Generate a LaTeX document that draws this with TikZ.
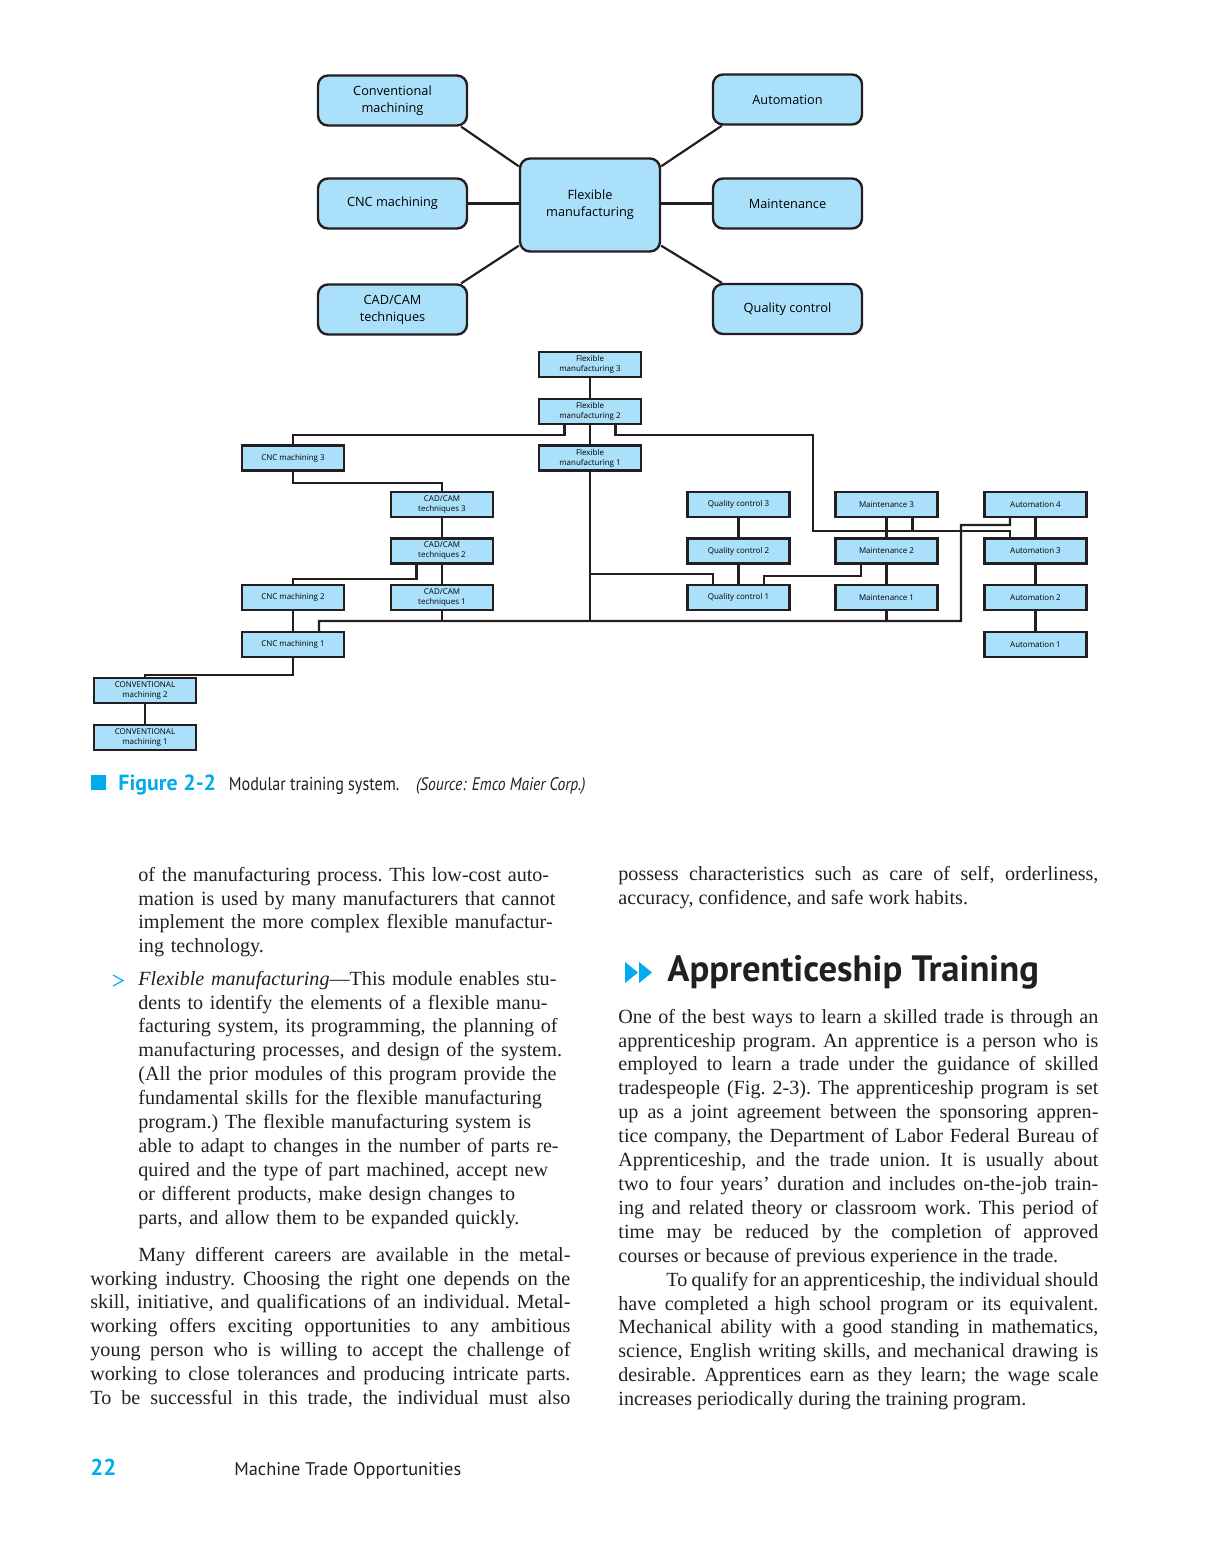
\documentclass[tikz,border=0pt]{standalone}
\usepackage{fontspec}
\setmainfont{Liberation Serif}
\setsansfont{PT Sans}
\newfontfamily\labelfont{Open Sans}
\newfontfamily\capfont[FakeStretch=0.86]{PT Sans}
\usepackage{xcolor}
\definecolor{boxblue}{RGB}{171,224,250}
\definecolor{figcyan}{RGB}{0,172,236}
\definecolor{inkblack}{RGB}{35,31,32}
\usetikzlibrary{positioning}

\begin{document}
\begin{tikzpicture}[
  x=0.5bp, y=-0.5bp,
  topbox/.style={fill=boxblue, draw=inkblack, line width=1.2bp, rounded corners=5bp,
    minimum width=74.5bp, minimum height=25bp, inner sep=1bp, align=center,
    font=\labelfont\fontsize{6.4}{8.5}\selectfont},
  modbox/.style={fill=boxblue, draw=inkblack, line width=1.1bp,
    minimum width=51bp, minimum height=12.5bp, inner sep=0pt, align=center,
    font=\labelfont\fontsize{4}{5}\selectfont},
  link/.style={draw=inkblack, line width=1.1bp},
  bodytext/.style={anchor=north west, inner sep=0pt, text width=240bp, align=justify,
    font=\fontsize{10.1}{12}\selectfont\frenchspacing, text=inkblack,
    execute at begin node={\tolerance=9999\relax\strut}},
  ragtext/.style={bodytext, text width=230bp, align=left}]

  \useasboundingbox (0,0) rectangle (1224,1566);

  % overview of the modules
  \node[topbox] (conv) at (392.5,100.5) {Conventional\\machining};
  \node[topbox] (cncm) at (392.5,203.5) {CNC machining};
  \node[topbox] (cadcam) at (392.5,309.5) {CAD/CAM\\techniques};
  \node[topbox] (autom) at (787.5,99.5) {Automation};
  \node[topbox] (maint) at (787.5,203.5) {Maintenance};
  \node[topbox] (qual) at (787.5,309) {Quality control};
  \node[topbox, minimum width=70bp, minimum height=46.5bp] (flex) at (590,205)
    {Flexible\\manufacturing};

  \draw[link] ([xshift=-3.5bp]conv.south east) -- ([yshift=-4.5bp]flex.north west);
  \draw[link] ([xshift=5bp]autom.south west) -- ([yshift=-4.5bp]flex.north east);
  \draw[link] (cncm) -- (cncm -| flex.west);
  \draw[link] (maint) -- (maint -| flex.east);
  \draw[link] ([xshift=-3.5bp]cadcam.north east) -- ([yshift=3.5bp]flex.south west);
  \draw[link] ([xshift=5bp]qual.north west) -- ([yshift=3.5bp]flex.south east);

  % modular training tree
  \foreach \n/\y in {3/364.5,2/411.5,1/458}
    \node[modbox] (fm\n) at (590,\y) {Flexible\\manufacturing \n};
  \foreach \n/\y in {3/458,2/597.5,1/644.5}
    \node[modbox] (cnc\n) at (293,\y) {CNC machining \n};
  \foreach \n/\y in {3/504.5,2/551,1/597.5} {
    \node[modbox] (cad\n) at (442,\y) {CAD/CAM\\techniques \n};
    \node[modbox] (qc\n) at (738.5,\y) {Quality control \n};
    \node[modbox] (mt\n) at (886.5,\y) {Maintenance \n};
  }
  \foreach \n/\y in {2/690.5,1/737.5}
    \node[modbox] (cv\n) at (145,\y) {CONVENTIONAL\\machining \n};
  \foreach \n/\y in {4/504.5,3/551,2/597.5,1/644.5}
    \node[modbox] (au\n) at (1035.5,\y) {Automation \n};

  \coordinate (bus) at (0,621);
  \coordinate (qcbus) at (0,574);

  \foreach \a/\b in {fm3/fm2, fm2/fm1, cad3/cad2, cad2/cad1, cnc2/cnc1, cv2/cv1,
                     qc3/qc2, qc2/qc1, mt3/mt2, mt2/mt1, au4/au3, au3/au2, au2/au1}
    \draw[link] (\a) -- (\b);

  \draw[link] ([xshift=-12.75bp]fm2.south) -- ++(0,10) -| (cnc3.north);
  \draw[link] ([xshift=12.75bp]fm2.south) -- ++(0,10) -| (813,531)
    -| ([xshift=-12.75bp]au3.north);
  \draw[link] ([xshift=13bp]mt3.south) -- ++(0,14);
  \draw[link] (cnc3.south) -- ++(0,11) -| (cad3.north);
  \draw[link] ([xshift=-12.75bp]cad2.south) -- ++(0,14) -| (cnc2.north);
  \draw[link] (cnc1.south) -- ++(0,17) -| (cv2.north);
  \draw[link] ([xshift=13bp]cnc1.north) |- (961,621) |- (1010,525)
    -- ([xshift=-12.75bp]au4.south);
  \foreach \m in {cad1,fm1,mt1}
    \draw[link] (\m.south) -- (\m.south |- bus);
  \draw[link] (fm1.south |- qcbus) -| ([xshift=-12.75bp]qc1.north);
  \draw[link] ([xshift=-12.75bp]mt2.south) -- ++(0,11) -| ([xshift=12.75bp]qc1.north);

  % caption
  \fill[figcyan] (91,775) rectangle (106,790);
  \node[anchor=base west, inner sep=0pt, text=figcyan,
    font=\sffamily\bfseries\fontsize{11}{13}\selectfont] (figno) at (118,790) {Figure 2-2};
  \node[base right=6bp of figno, inner sep=0pt, text=inkblack,
    font=\capfont\fontsize{9.4}{11}\selectfont] (figtitle) {Modular training system.};
  \node[base right=8bp of figtitle, inner sep=0pt, text=inkblack,
    font=\capfont\itshape\fontsize{9.1}{10}\selectfont] (figsrc) {(Source: Emco Maier Corp.)};

  % left column
  \node[ragtext] (colA) at (138,864) {of the manufacturing process. This low-cost auto-\\
    mation is used by many manufacturers that cannot\\
    implement the more complex flexible manufactur-\\
    ing technology.};
  \draw[figcyan, line width=0.6bp] (113,975) -- (123,980.5) -- (113,986);
  \node[ragtext] (colB) at (138,968) {\textit{Flexible manufacturing}---This module enables stu-\\
    dents to identify the elements of a flexible manu-\\
    facturing system, its programming, the planning of\\
    manufacturing processes, and design of the system.\\
    (All the prior modules of this program provide the\\
    fundamental skills for the flexible manufacturing\\
    program.) The flexible manufacturing system is\\
    able to adapt to changes in the number of parts re-\\
    quired and the type of part machined, accept new\\
    or different products, make design changes to\\
    parts, and allow them to be expanded quickly.};
  \node[bodytext] (colC) at (90,1244) {\hspace*{24bp}Many different careers
    are available in the metal-\linebreak
    working industry. Choosing the right one depends on the\linebreak
    skill, initiative, and qualifications of an individual. Metal-\linebreak
    working offers exciting opportunities to any ambitious\linebreak
    young person who is willing to accept the challenge of\linebreak
    working to close tolerances and producing intricate parts.\linebreak
    To be successful in this trade, the individual must also{\parfillskip=0pt\par}};

  % right column
  \node[bodytext] (colD) at (618,863) {possess characteristics such as care of self, orderliness,\linebreak
    accuracy, confidence, and safe work habits.};
  \foreach \x in {625,639}
    \fill[figcyan] (\x,962) -- ++(13,10.5) -- ++(-13,10.5) -- cycle;
  \node[anchor=base west, inner sep=0pt, text=inkblack,
    font=\sffamily\bfseries\fontsize{18.4}{20}\selectfont] (apphead) at (667,981)
    {Apprenticeship Training};
  \node[bodytext] (colE) at (618,1006) {One of the best ways to learn a skilled trade is through an\linebreak
    apprenticeship program. An apprentice is a person who is\linebreak
    employed to learn a trade under the guidance of skilled\linebreak
    tradespeople (Fig. 2-3). The apprenticeship program is set\linebreak
    up as a joint agreement between the sponsoring appren-\linebreak
    tice company, the Department of Labor Federal Bureau of\linebreak
    Apprenticeship, and the trade union. It is usually about\linebreak
    two to four years' duration and includes on-the-job train-\linebreak
    ing and related theory or classroom work. This period of\linebreak
    time may be reduced by the completion of approved\linebreak
    courses or because of previous experience in the trade.\par
    \strut\hspace*{24bp}To qualify for an apprenticeship, the individual should\linebreak
    have completed a high school program or its equivalent.\linebreak
    Mechanical ability with a good standing in mathematics,\linebreak
    science, English writing skills, and mechanical drawing is\linebreak
    desirable. Apprentices earn as they learn; the wage scale\linebreak
    increases periodically during the training program.};

  % running foot
  \node[anchor=base west, inner sep=0pt, text=figcyan,
    font=\sffamily\bfseries\fontsize{11.5}{13}\selectfont] (pageno) at (90,1475) {22};
  \node[anchor=base west, inner sep=0pt, text=inkblack,
    font=\sffamily\fontsize{9.2}{12}\selectfont] (runfoot) at (234,1475)
    {Machine Trade Opportunities};
\end{tikzpicture}
\end{document}
